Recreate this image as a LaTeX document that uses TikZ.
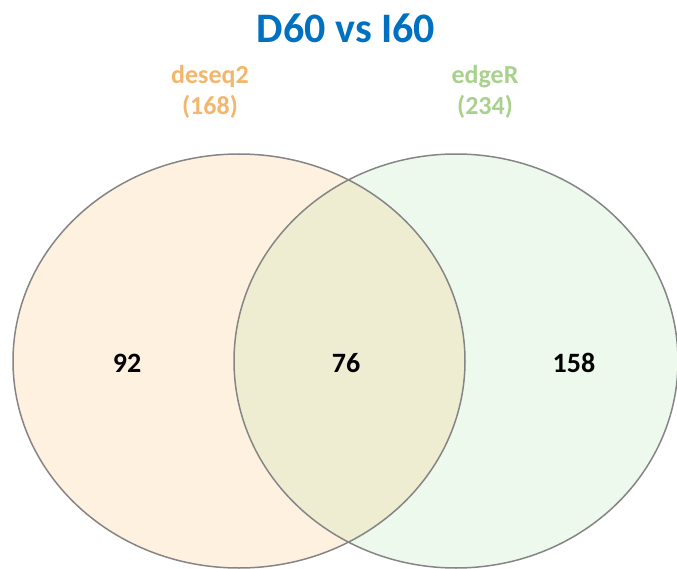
\documentclass[tikz,border=0pt]{standalone}
\usepackage{fontspec}
\setmainfont{Carlito}
\usepackage{xcolor}
\definecolor{vnBlue}{HTML}{0070C0}
\definecolor{vnOrange}{HTML}{F2B66C}
\definecolor{vnGreen}{HTML}{A9D18E}
\definecolor{vnOrangeFill}{HTML}{FFF1DF}
\definecolor{vnGreenFill}{HTML}{EEF9EE}
\definecolor{vnMixFill}{HTML}{EFEDD1}
\definecolor{vnEdge}{HTML}{858585}
\tikzset{
    setlabel/.style={
        align=center,font=\fontsize{26}{31}\selectfont\bfseries,text=#1
    },
    setlabel/.default=vnOrange,
    count/.style={
        font=\fontsize{28}{32}\selectfont\bfseries,text=black
    },
    rim/.style={
        draw=vnEdge,line width=1.5pt
    }
}
\begin{document}
\begin{tikzpicture}[x=1pt,y=1pt]

\useasboundingbox (0,0) rectangle (677,-569);

% the two sets
\fill[vnOrangeFill] (239,-361) ellipse [x radius=226,y radius=207];
\fill[vnGreenFill] (456,-361) ellipse [x radius=222,y radius=207];
\begin{scope}
\clip (239,-361) ellipse [x radius=226,y radius=207];
\fill[vnMixFill] (456,-361) ellipse [x radius=222,y radius=207];
\end{scope}
\draw[rim] (239,-361) ellipse [x radius=226,y radius=207];
\draw[rim] (456,-361) ellipse [x radius=222,y radius=207];

\node[font=\fontsize{42}{46}\selectfont\bfseries,text=vnBlue](title) at (346,-28) {D60 vs I60};

\node[setlabel=vnOrange](deseq) at (210,-92) {deseq2\\(168)};
\node[setlabel=vnGreen](edger) at (485,-92) {edgeR\\(234)};

\node[count](left) at (127,-363) {92};
\node[count](mid) at (346,-363) {76};
\node[count](right) at (574,-363) {158};

\end{tikzpicture}
\end{document}
